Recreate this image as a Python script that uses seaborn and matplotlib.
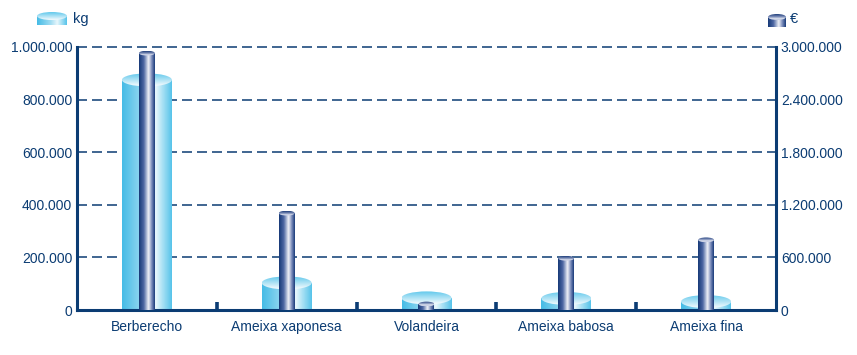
import numpy as np
import pandas as pd
import matplotlib
matplotlib.use("Agg")
import matplotlib.pyplot as plt
import seaborn as sns
from matplotlib.patches import Ellipse, Rectangle
from matplotlib.colors import LinearSegmentedColormap
from matplotlib.ticker import FuncFormatter

# ---------------- data ----------------
categories = ["Berberecho", "Ameixa xaponesa", "Volandeira", "Ameixa babosa", "Ameixa fina"]
kg_values = [875000, 103000, 46000, 44000, 32000]
eur_values = [2930000, 1105000, 68000, 590000, 800000]
kg_ticks = [0, 200000, 400000, 600000, 800000, 1000000]
eur_ticks = [0, 600000, 1200000, 1800000, 2400000, 3000000]
series_labels = ["kg", "€"]

# ---------------- style ----------------
W, H, DPI = 857, 355, 100
NAVY = "#0b3c73"
FS = 10

LIGHT_BODY = [(0.0, "#46bce6"), (0.45, "#9fdcf2"), (0.68, "#e8f7fc"), (1.0, "#58c4ea")]
LIGHT_TOP = [(0.0, "#62c9ec"), (0.6, "#b9e6f6"), (1.0, "#f4fbfe")]
DARK_BODY = [(0.0, "#173a78"), (0.3, "#4d67a3"), (0.6, "#f0f2f8"), (0.8, "#7e8fbd"), (1.0, "#1a3c7b")]
DARK_TOP = [(0.0, "#1d3d7a"), (0.45, "#7c8db8"), (0.8, "#e6e9f3"), (1.0, "#b7c0db")]

sns.set_theme(style="white")
plt.rcParams["font.family"] = ["Liberation Sans", "DejaVu Sans"]
plt.rcParams["lines.scale_dashes"] = False


def grad(stops, n, horizontal):
    cmap = LinearSegmentedColormap.from_list("g", stops)
    c = cmap(np.linspace(0, 1, n))
    return c[None, :, :] if horizontal else c[:, None, :]


def cylinder(axis, x0, w, base, top, eh, body, topc, z):
    rect = Rectangle((x0, base), w, top - base, facecolor="none", edgecolor="none")
    axis.add_patch(rect)
    im = axis.imshow(grad(body, 64, True), extent=[x0, x0 + w, base, top],
                     aspect="auto", interpolation="bilinear", zorder=z)
    im.set_clip_path(rect)
    e = Ellipse((x0 + w / 2, top), w, eh, facecolor="none", edgecolor="none")
    axis.add_patch(e)
    im2 = axis.imshow(grad(topc, 32, False), extent=[x0, x0 + w, top - eh / 2, top + eh / 2],
                      origin="upper", aspect="auto", interpolation="bilinear", zorder=z + 0.5)
    im2.set_clip_path(e)


fig = plt.figure(figsize=(W / DPI, H / DPI), dpi=DPI, facecolor="white")
L, R, B, T = 77, 776, 310, 47
ax = fig.add_axes([L / W, (H - B) / H, (R - L) / W, (B - T) / H])
ax2 = ax.twinx()

df = pd.DataFrame({"cat": categories, "kg": kg_values, "eur": eur_values})
sns.barplot(data=df, x="cat", y="kg", ax=ax, width=50 / 139.8, color="#5cc6ea",
            saturation=1, zorder=2)
sns.barplot(data=df, x="cat", y="eur", ax=ax2, width=16 / 139.8, color="#1c3d7c",
            saturation=1, zorder=2)

ax.set_xlim(-0.5, len(categories) - 0.5)
ax.set_ylim(0, kg_ticks[-1])
ax2.set_ylim(0, eur_ticks[-1])

ax_w_px = R - L
ax_h_px = B - T
px_per_x = ax_w_px / len(categories)


def cylinderize(axis, ymax, body, topc, ratio):
    px_per_y = ax_h_px / ymax
    for p in list(axis.patches):
        x0, w, h = p.get_x(), p.get_width(), p.get_height()
        p.set_visible(False)
        eh = ratio * w * px_per_x / px_per_y
        cylinder(axis, x0, w, 0, h, eh, body, topc, 3)


cylinderize(ax, kg_ticks[-1], LIGHT_BODY, LIGHT_TOP, 0.26)
cylinderize(ax2, eur_ticks[-1], DARK_BODY, DARK_TOP, 0.30)

ax.set_xlim(-0.5, len(categories) - 0.5)
ax.set_ylim(0, kg_ticks[-1])
ax2.set_ylim(0, eur_ticks[-1])

fmt = FuncFormatter(lambda v, p: f"{int(round(v)):,}".replace(",", "."))
ax.set_yticks(kg_ticks)
ax2.set_yticks(eur_ticks)
ax.yaxis.set_major_formatter(fmt)
ax2.yaxis.set_major_formatter(fmt)

ax.set_axisbelow(True)
ax.yaxis.grid(True, color=NAVY, linewidth=1.1, linestyle=(0, (7.2, 3.6)))
ax.xaxis.grid(False)
ax2.grid(False)
for gl in ax.get_ygridlines():
    gl.set_clip_on(False)

for a in (ax, ax2):
    a.set_xlabel("")
    a.set_ylabel("")
    for s in a.spines.values():
        s.set_visible(False)
lw = 2.2
for a, side in ((ax, "left"), (ax, "bottom"), (ax2, "right")):
    a.spines[side].set_visible(True)
    a.spines[side].set_linewidth(lw)
    a.spines[side].set_color(NAVY)
ax.spines["bottom"].set_zorder(10)

ax.tick_params(axis="y", left=False, length=0, pad=3.5, labelsize=FS, labelcolor=NAVY)
ax2.tick_params(axis="y", right=False, length=0, pad=3.5, labelsize=FS, labelcolor=NAVY)
ax.tick_params(axis="x", which="major", length=0, pad=7.5, labelsize=FS, labelcolor=NAVY)
ax.set_xticks([i + 0.5 for i in range(len(categories) - 1)], minor=True)
ax.tick_params(axis="x", which="minor", bottom=True, direction="in", length=5.5,
               width=2.6, color=NAVY)

# legend overlay (pixel coordinates)
ov = fig.add_axes([0, 0, 1, 1])
ov.set_xlim(0, W)
ov.set_ylim(0, H)
ov.axis("off")
ov.patch.set_visible(False)
cylinder(ov, 37, 30, H - 25, H - 16, 8, LIGHT_BODY, LIGHT_TOP, 3)
cylinder(ov, 768, 18, H - 27, H - 17, 6, DARK_BODY, DARK_TOP, 3)
ov.set_xlim(0, W)
ov.set_ylim(0, H)
ov.text(73, H - 19, series_labels[0], ha="left", va="center", fontsize=FS + 0.5, color=NAVY)
ov.text(790, H - 19, series_labels[1], ha="left", va="center", fontsize=FS + 0.5, color=NAVY)

fig.savefig("out.png", dpi=DPI, facecolor="white")
